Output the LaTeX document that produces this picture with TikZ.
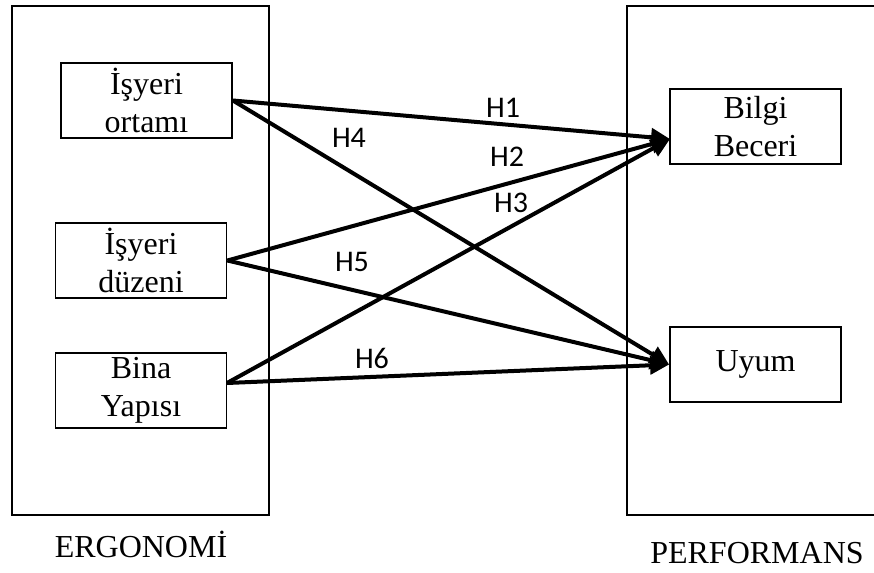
\documentclass[tikz,border=0pt]{standalone}
\usepackage{fontspec}
\setmainfont{Liberation Serif}
\newfontfamily\labelfont{Carlito}
\usetikzlibrary{arrows.meta,positioning}

\begin{document}
\begin{tikzpicture}[
    x=1pt, y=-1pt,
    factor/.style={rectangle, draw=black, line width=1.8pt, minimum width=171pt, minimum height=75pt, inner sep=0pt, align=center, font=\fontsize{32}{38}\selectfont},
    group/.style={rectangle, draw=black, line width=1.8pt, minimum width=257pt, minimum height=509pt, inner sep=0pt},
    title/.style={font=\fontsize{32}{38}\selectfont, inner sep=0pt, anchor=base},
    hyp/.style={font=\labelfont\fontsize{30}{36}\selectfont, inner sep=0pt},
    arrow/.style={-{Triangle[length=19pt,width=18pt]}, line width=4pt, black}
]
\useasboundingbox (0,0) rectangle (874,572);

% groups
\node[group] (ergo) at (140.5,260.5) {};
\draw[line width=1.8pt] (874,6) -| (627,515) -- (874,515);
\node[title] (ergolabel) at (141,557) {ERGONOM\.I};
\node[title] (perflabel) at (757,563) {PERFORMANS};

% factors
\node[factor] (ortam) at (146.5,100.5) {\.I\c{s}yeri\\ortam\i};
\node[factor] (duzen) at (141,260.5) {\.I\c{s}yeri\\d\"uzeni};
\node[factor] (bina) at (141,390.5) {Bina\\Yap\i s\i};
\node[factor] (bilgi) at (755.5,126.5) {Bilgi\\Beceri};
\node[factor] (uyum) at (755.5,364.5) {Uyum};

\coordinate (bilgiin) at (670,139);
\coordinate (binaout) at (227,383);

% hypotheses
\draw[arrow] (ortam.east) -- (bilgiin);
\draw[arrow] (ortam.east) -- (uyum.west);
\draw[arrow] (duzen.east) -- (bilgiin);
\draw[arrow] (duzen.east) -- (uyum.west);
\draw[arrow] (binaout) -- (bilgiin);
\draw[arrow] (binaout) -- (uyum.west);

\node[hyp] (h1) at (503,108) {H1};
\node[hyp] (h2) at (507,157) {H2};
\node[hyp] (h3) at (511,203) {H3};
\node[hyp] (h4) at (349,138) {H4};
\node[hyp] (h5) at (352,262) {H5};
\node[hyp] (h6) at (372,358) {H6};
\end{tikzpicture}
\end{document}
